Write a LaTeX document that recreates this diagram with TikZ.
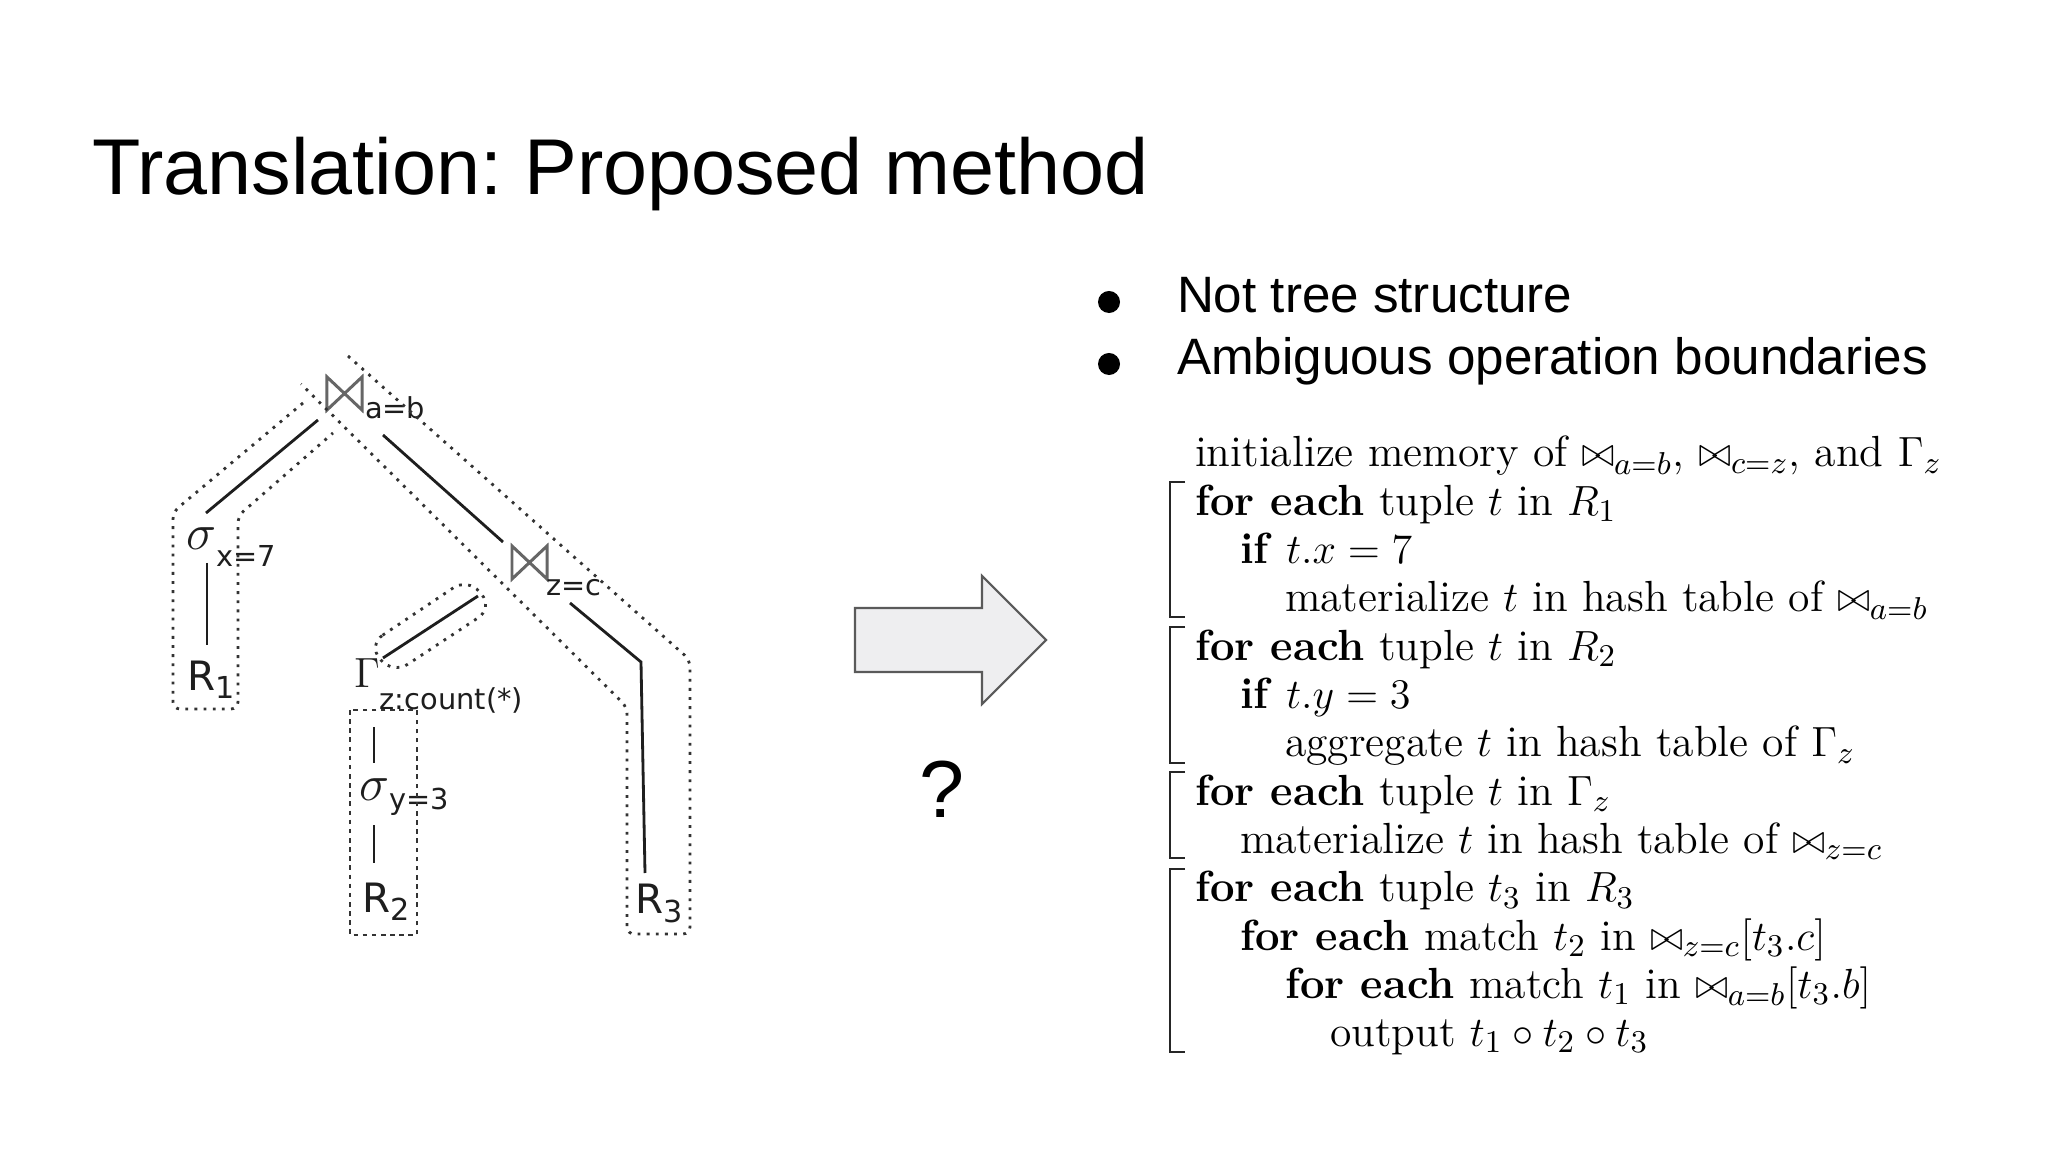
\documentclass[tikz,border=0pt]{standalone}
\usepackage{fontspec}
\usepackage{graphicx}
\newfontfamily\arialf{Liberation Sans}
\newfontfamily\dejavuf{DejaVu Sans}
\definecolor{arrowfill}{HTML}{EEEEF0}
\definecolor{arrowline}{HTML}{5A5A5A}
\definecolor{treeink}{HTML}{1E1E1E}
\definecolor{dotink}{HTML}{333333}
\definecolor{btink}{HTML}{666666}
\newcommand{\subtx}[2]{\raisebox{-#1}{\dejavuf\fontsize{8.2}{10}\selectfont #2}}
\newcommand{\jn}{\mathord{\scalebox{0.95}[1]{$\bowtie$}}}
\begin{document}
\frenchspacing
\begin{tikzpicture}[x=0.01cm,y=-0.01cm,
  every node/.style={inner sep=0pt, outer sep=0pt},
  titletext/.style={font=\arialf\fontsize{22.5}{27}\selectfont, anchor=base west},
  bullettext/.style={font=\arialf\fontsize{14.55}{18}\selectfont, anchor=base west},
  bulletdot/.style={circle, fill=black, minimum size=0.22cm},
  codeline/.style={font=\fontsize{12.4}{14}\selectfont, anchor=base west},
  bracketline/.style={draw=black!85, line width=0.7pt},
  reltext/.style={font=\dejavuf\fontsize{11.5}{13}\selectfont, text=treeink, anchor=base west},
  subtext/.style={font=\dejavuf\fontsize{8.2}{10}\selectfont, text=treeink, anchor=base west},
  greek/.style={font=\fontsize{14.5}{16}\selectfont, text=treeink, anchor=base west},
  gammatext/.style={font=\fontsize{11.5}{13}\selectfont, text=treeink, anchor=base west},
  bowtie/.style={minimum width=0.35cm, minimum height=0.33cm},
  btline/.style={draw=btink, line width=0.85pt},
  treeline/.style={draw=treeink, line width=0.8pt},
  dotbox/.style={draw=dotink, line width=0.8pt, dash pattern=on 0.8pt off 1.8pt, rounded corners=2pt},
  dashbox/.style={draw=dotink, line width=0.8pt, dash pattern=on 1.3pt off 1.3pt},
  bigarrow/.style={draw=arrowline, fill=arrowfill, line width=0.6pt, line join=miter},
  qmark/.style={font=\arialf\fontsize{23}{27}\selectfont, anchor=base},
]
\fill[white] (0,0) rectangle (2048,1152);
\useasboundingbox (0,0) rectangle (2048,1152);

% title and bullets
\node[titletext] (title) at (92,195) {Translation: Proposed method};
\node[bulletdot] (b1) at (1109,302) {};
\node[bullettext] (t1) at (1177,313) {Not tree structure};
\node[bulletdot] (b2) at (1109,364) {};
\node[bullettext] (t2) at (1177,375) {Ambiguous operation boundaries};

% arrow and question mark
\draw[bigarrow] (855,608) -- (982,608) -- (982,576) -- (1046,640) -- (982,704) -- (982,672) -- (855,672) -- cycle;
\node[qmark] (q) at (942,817) {?};

% ---------- tree ----------
\node[bowtie] (j1) at (344.5,393.5) {};
\draw[btline] (j1.south west) -- (j1.north west) -- (j1.south east) -- (j1.north east) -- cycle;
\node[subtext] (j1sub) at (365,419) {a=b};

\node[bowtie] (j2) at (529.5,562.5) {};
\draw[btline] (j2.south west) -- (j2.north west) -- (j2.south east) -- (j2.north east) -- cycle;
\node[subtext] (j2sub) at (546,595) {z=c};

\node[greek] (s1) at (186,550) {$\sigma$\subtx{4.8pt}{x=7}};
\node[reltext] (r1) at (187,690) {R\subtx{2.3pt}{\fontsize{8.6}{10}\selectfont 1}};

\node[gammatext] (g) at (354,687) {$\Gamma$\subtx{6.3pt}{z:count(*)}};
\node[greek] (s2) at (359,800) {$\sigma$\subtx{2.6pt}{y=3}};
\node[reltext] (r2) at (362,912) {R\subtx{2.3pt}{\fontsize{8.6}{10}\selectfont 2}};
\node[reltext] (r3) at (635,913) {R\subtx{2.6pt}{\fontsize{8.6}{10}\selectfont 3}};
\coordinate (bend3) at (641,662);

% connectors
\draw[treeline] ([shift={(-9,10)}]j1.south west) -- ([shift={(20,-37)}]s1.base west);
\draw[treeline] ([shift={(21,13)}]s1.base west) -- ([shift={(20,-45)}]r1.base west);
\draw[treeline] ([shift={(21,25)}]j1.south east) -- ([shift={(-9,-4)}]j2.north west);
\draw[treeline] ([shift={(-34,17)}]j2.south west) -- ([shift={(29,-29)}]g.base west);
\draw[treeline] ([shift={(20,40)}]g.base west) -- ([shift={(15,-37)}]s2.base west);
\draw[treeline] ([shift={(15,25)}]s2.base west) -- ([shift={(12,-49)}]r2.base west);
\draw[treeline] ([shift={(23,24)}]j2.south east) -- (bend3) -- ([shift={(10,-40)}]r3.base west);

% dotted groupings
\draw[dotbox] (303,403) -- (173,512) -- (173,709) -- (238,709) -- (238,516) -- (333,433);
\draw[dotbox] (348,356) -- (690,660) -- (690,934) -- (627,934) -- (627,707) -- (301,384);
\draw[dotbox, rounded corners=5pt] (368,645) -- (468,578) -- (493,608) -- (393,674) -- cycle;
\draw[dashbox] (350,710) rectangle (417,935);

% ---------- pseudo code ----------
\node[codeline] (l1) at (1195,467) {initialize memory of $\jn_{a=b}$, $\jn_{c=z}$, and $\Gamma_z$};
\node[codeline] (l2) at (1195,515.3) {\textbf{for each} tuple $t$ in $R_1$};
\node[codeline] (l3) at (1240,563.6) {\textbf{if} $t.x = 7$};
\node[codeline] (l4) at (1285,611.9) {materialize $t$ in hash table of $\jn_{a=b}$};
\node[codeline] (l5) at (1195,660.2) {\textbf{for each} tuple $t$ in $R_2$};
\node[codeline] (l6) at (1240,708.5) {\textbf{if} $t.y = 3$};
\node[codeline] (l7) at (1285,756.8) {aggregate $t$ in hash table of $\Gamma_z$};
\node[codeline] (l8) at (1195,805.1) {\textbf{for each} tuple $t$ in $\Gamma_z$};
\node[codeline] (l9) at (1240,853.4) {materialize $t$ in hash table of $\jn_{z=c}$};
\node[codeline] (l10) at (1195,901.7) {\textbf{for each} tuple $t_3$ in $R_3$};
\node[codeline] (l11) at (1240,950) {\textbf{for each} match $t_2$ in $\jn_{z=c}[t_3.c]$};
\node[codeline] (l12) at (1285,998.3) {\textbf{for each} match $t_1$ in $\jn_{a=b}[t_3.b]$};
\node[codeline] (l13) at (1330,1046.6) {output $t_1 \circ t_2 \circ t_3$};

% brackets
\draw[bracketline] (1185,482) -- (1170,482) -- (1170,617) -- (1185,617);
\draw[bracketline] (1185,627) -- (1170,627) -- (1170,763) -- (1185,763);
\draw[bracketline] (1185,772) -- (1170,772) -- (1170,858) -- (1185,858);
\draw[bracketline] (1185,869) -- (1170,869) -- (1170,1052) -- (1185,1052);
\end{tikzpicture}
\end{document}
